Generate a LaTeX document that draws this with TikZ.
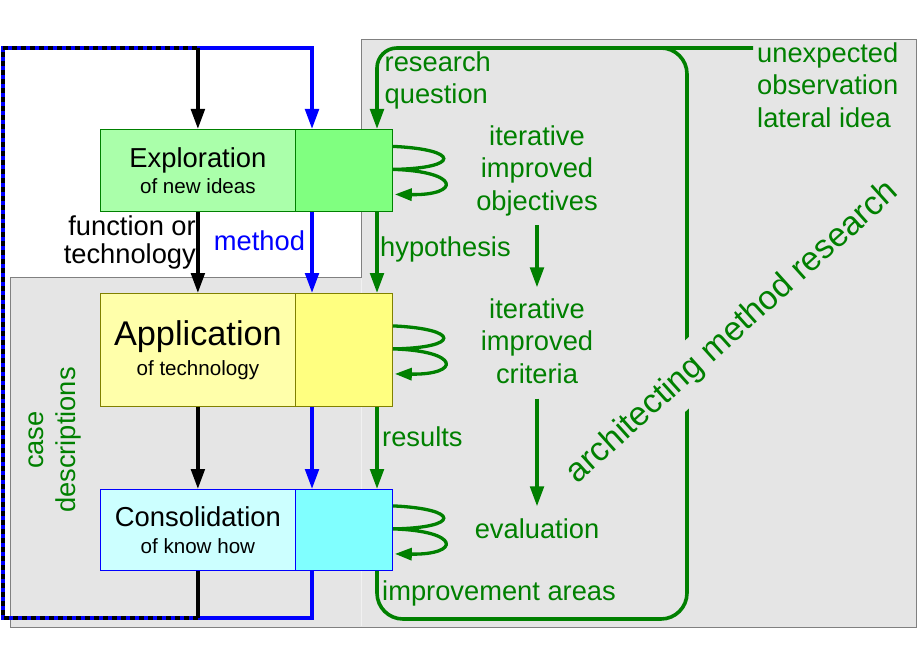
\documentclass[tikz,border=0pt]{standalone}
\usepackage{fontspec}
\setmainfont{Liberation Sans}
\usetikzlibrary{arrows.meta,calc}
\definecolor{grn}{HTML}{008000}
\definecolor{bgc}{HTML}{E5E5E5}
\definecolor{brd}{HTML}{808080}
\definecolor{exL}{HTML}{AAFFAA}
\definecolor{exR}{HTML}{80FF80}
\definecolor{apL}{HTML}{FFFFAA}
\definecolor{apR}{HTML}{FFFF80}
\definecolor{apB}{HTML}{808000}
\definecolor{coL}{HTML}{CCFFFF}
\definecolor{coR}{HTML}{80FFFF}
\definecolor{blu}{HTML}{0000FF}
\begin{document}
\begin{tikzpicture}[x=1pt,y=-1pt,
  boxL/.style={draw, line width=0.8pt, inner sep=0pt, anchor=north west, minimum width=195pt, align=center, text=black},
  boxR/.style={draw, line width=0.8pt, inner sep=0pt, anchor=north west, minimum width=97pt},
  lbl/.style={font=\fontsize{27.3}{32.5}\selectfont, text=grn, inner sep=0pt},
  arr/.style={-{Triangle[length=20pt,width=13.5pt]}},
  larr/.style={-{Triangle[length=17pt,width=12pt]}},
  kline/.style={line width=3.6pt, black},
  bline/.style={line width=3.6pt, blu},
  gline/.style={line width=3.6pt, grn},
]
\useasboundingbox (0,0) rectangle (920,660);

% backgrounds
\fill[bgc] (361,40) rectangle (916,627);
\fill[bgc] (10,277) rectangle (361,627);
\draw[brd, line width=1pt] (10,277) -- (361,277) -- (361,40) -- (916,40) -- (916,627) -- (10,627) -- cycle;
\draw[white!45!bgc, line width=1pt] (361,278) -- (361,626);

% boxes
\node[boxL, fill=exL, draw=grn, minimum height=82pt, font=\fontsize{27.4}{26}\selectfont] (E) at (100,129)
  {Exploration\\\fontsize{20.6}{20}\selectfont of new ideas};
\node[boxR, fill=exR, draw=grn, minimum height=82pt] (Er) at (295,129) {};
\node[boxL, fill=apL, draw=apB, minimum height=113pt, font=\fontsize{34.3}{30.3}\selectfont] (A) at (100,293)
  {Application\\\fontsize{20.6}{20}\selectfont of technology};
\node[boxR, fill=apR, draw=apB, minimum height=113pt] (Ar) at (295,293) {};
\node[boxL, fill=coL, draw=blu, minimum height=81pt, font=\fontsize{27.4}{27}\selectfont] (C) at (100,489)
  {Consolidation\\\fontsize{20.6}{20}\selectfont of know how};
\node[boxR, fill=coR, draw=blu, minimum height=81pt] (Cr) at (295,489) {};

% labels
\node[font=\fontsize{27.3}{28}\selectfont, inner sep=0pt, align=right, anchor=east] (fot) at (196,242) {function or\\technology};
\node[font=\fontsize{27.3}{28}\selectfont, inner sep=0pt, text=blu, anchor=base] (meth) at (259.5,251) {method};
\node[lbl, align=left, anchor=west] (rq) at (384.5,80.5) {research\\question};
\node[lbl, align=center] (obj) at (537,170.7) {iterative\\improved\\objectives};
\node[lbl, anchor=base west] (hyp) at (380,256) {hypothesis};
\node[lbl, align=center] (crit) at (537,340.8) {iterative\\improved\\criteria};
\node[lbl, anchor=base west] (res) at (382,446) {results};
\node[lbl, anchor=base] (eval) at (537,538) {evaluation};
\node[lbl, anchor=base west] (impr) at (382,600) {improvement areas};
\node[lbl, align=left, anchor=west] (unexp) at (757,85) {unexpected\\observation\\lateral idea};
\node[lbl, align=center, rotate=90, font=\fontsize{27.3}{32}\selectfont] (cases) at (54.6,440) {case\\descriptions};

% helper coordinates
\coordinate (tl) at (3,48);
\coordinate (bl) at (3,618);
\coordinate (bx) at (312,0);
\coordinate (gx) at (377,0);
\coordinate (gb) at (0,619);
\coordinate (gr) at (687,0);

% blue method path
\draw[bline, arr] (Cr.south -| bx) -- (bx |- bl) -- (bl) -- (tl) -- (bx |- tl) -- (Er.north -| bx);
\draw[bline, arr] (Er.south -| bx) -- (Ar.north -| bx);
\draw[bline, arr] (Ar.south -| bx) -- (Cr.north -| bx);

% black technology path
\draw[kline] (C.south) -- (C.south |- bl);
\draw[kline, dash pattern=on 5pt off 4pt] (C.south |- bl) -- (bl) -- (tl) -- (E.north |- tl);
\draw[kline, arr] (E.north |- tl) -- (E.north);
\draw[kline, arr] (E.south) -- (A.north);
\draw[kline, arr] (A.south) -- (C.north);

% green research path
\draw[gline, arr, rounded corners=20pt] ($(unexp.west |- tl)+(-4,0)$) -- (gx |- tl) -- (Er.north -| gx);
\draw[gline, rounded corners=26pt] (Cr.south -| gx) -- (gx |- gb) -- (gr |- gb) -- (gr |- tl) -- ($(gr |- tl)+(-60,0)$);
\draw[gline, arr] (Er.south -| gx) -- (Ar.north -| gx);
\draw[gline, arr] (Ar.south -| gx) -- (Cr.north -| gx);
\draw[gline, arr, shorten <=9pt, shorten >=10.7pt] (obj.south) -- (crit.north);
\draw[gline, arr, shorten <=15pt, shorten >=11.7pt] (crit.south) -- (eval.north);

% iteration loops
\foreach \n in {Er,Ar,Cr}{
  \draw[gline, line width=3.3pt, larr] ($(\n.east)+(0,-24)$) .. controls +(68,3) and +(68,-1) .. ($(\n.east)+(0,-1)$)
     .. controls +(68,2) and +(66,1) .. ($(\n.east)+(2,24)$);
}

% rotated title
\node[rotate=42, fill=bgc, text=grn, font=\fontsize{33.6}{34}\selectfont, text height=24pt, text depth=7pt,
  inner xsep=3pt, inner ysep=11pt] (amr) at (733,333) {architecting method research};
\end{tikzpicture}
\end{document}
